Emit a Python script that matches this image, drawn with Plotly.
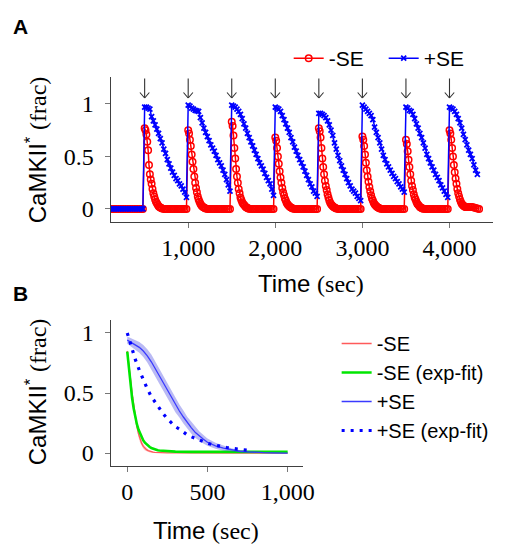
import plotly.graph_objects as go

# ---------------- Panel A data ----------------
stim_times = [500, 1000, 1500, 2000, 2500, 3000, 3500, 4000]

baseline_t = [100, 120, 140, 160, 180, 200, 220, 240, 260, 280, 300, 320, 340, 360, 380, 400, 420, 440, 460, 480]
baseline_minus = [0, 0, 0, 0, 0, 0, 0, 0, 0, 0, 0, 0, 0, 0, 0, 0, 0, 0, 0, 0]
baseline_plus = [0, 0, 0, 0, 0, 0, 0, 0, 0, 0, 0, 0, 0, 0, 0, 0, 0, 0, 0, 0]

# +SE samples, relative time after each stimulus (sec)
plus_rel_t = [0, 20, 40, 60, 80, 100, 120, 140, 160, 180, 200, 220, 240, 260, 280, 300, 320, 340, 360, 380, 400, 420, 440, 460, 480]
plus_p1 = [0.97, 0.97, 0.96, 0.95, 0.88, 0.84, 0.80, 0.76, 0.72, 0.67, 0.63, 0.57, 0.53, 0.47, 0.43, 0.39, 0.35, 0.32, 0.29, 0.27, 0.24, 0.22, 0.19, 0.16, 0.11]
plus_p2 = [0.99, 0.98, 0.96, 0.95, 0.94, 0.935, 0.93, 0.87, 0.82, 0.77, 0.73, 0.69, 0.65, 0.61, 0.58, 0.55, 0.51, 0.47, 0.44, 0.41, 0.37, 0.33, 0.28, 0.23, 0.17]
plus_p3 = [0.99, 0.98, 0.97, 0.95, 0.93, 0.90, 0.86, 0.81, 0.77, 0.72, 0.68, 0.64, 0.60, 0.56, 0.52, 0.48, 0.44, 0.41, 0.38, 0.34, 0.30, 0.27, 0.24, 0.19, 0.13]
plus_p4 = [0.97, 0.96, 0.95, 0.93, 0.89, 0.85, 0.81, 0.77, 0.73, 0.68, 0.64, 0.59, 0.55, 0.51, 0.47, 0.44, 0.40, 0.36, 0.32, 0.28, 0.24, 0.21, 0.17, 0.15, 0.12]
plus_p5 = [0.91, 0.91, 0.90, 0.89, 0.87, 0.84, 0.80, 0.75, 0.70, 0.63, 0.57, 0.51, 0.46, 0.41, 0.37, 0.33, 0.29, 0.25, 0.22, 0.19, 0.17, 0.15, 0.12, 0.10, 0.08]
plus_p6 = [0.99, 0.97, 0.95, 0.93, 0.91, 0.89, 0.85, 0.78, 0.73, 0.68, 0.63, 0.57, 0.51, 0.47, 0.43, 0.40, 0.37, 0.34, 0.31, 0.29, 0.26, 0.24, 0.21, 0.19, 0.16]
plus_p7 = [0.97, 0.96, 0.94, 0.93, 0.90, 0.86, 0.81, 0.77, 0.72, 0.68, 0.63, 0.58, 0.52, 0.48, 0.44, 0.40, 0.37, 0.33, 0.30, 0.27, 0.23, 0.20, 0.17, 0.14, 0.11]
plus_p8 = [0.97, 0.96, 0.95, 0.93, 0.90, 0.86, 0.82, 0.77, 0.71, 0.66, 0.61, 0.56, 0.52, 0.48, 0.42, 0.37, 0.33]

# -SE samples, relative time after each stimulus (sec)
minus_rel_t = [0, 10, 20, 30, 40, 50, 60, 70, 80, 90, 100, 110, 120, 130, 140, 150, 160, 170, 180, 190, 200,
               220, 240, 260, 280, 300, 320, 340, 360, 380, 400, 420, 440, 460, 480]
minus_p1 = [0.77, 0.75, 0.71, 0.64, 0.56, 0.42, 0.33, 0.28, 0.24, 0.19, 0.15, 0.12, 0.09, 0.07, 0.055, 0.04, 0.025, 0.02, 0.015, 0.01, 0.005,
            0, 0, 0, 0, 0, 0, 0, 0, 0, 0, 0, 0, 0, 0]
minus_p2 = [0.75, 0.72, 0.66, 0.60, 0.52, 0.45, 0.38, 0.31, 0.25, 0.20, 0.16, 0.12, 0.09, 0.07, 0.05, 0.035, 0.025, 0.02, 0.015, 0.01, 0.005,
            0, 0, 0, 0, 0, 0, 0, 0, 0, 0, 0, 0, 0, 0]
minus_p3 = [0.83, 0.79, 0.70, 0.58, 0.48, 0.38, 0.31, 0.25, 0.19, 0.15, 0.11, 0.085, 0.065, 0.05, 0.04, 0.03, 0.02, 0.015, 0.01, 0.005, 0.002,
            0, 0, 0, 0, 0, 0, 0, 0, 0, 0, 0, 0, 0, 0]
minus_p4 = [0.68, 0.65, 0.58, 0.50, 0.43, 0.36, 0.30, 0.25, 0.20, 0.16, 0.13, 0.10, 0.08, 0.06, 0.045, 0.035, 0.025, 0.02, 0.015, 0.01, 0.005,
            0, 0, 0, 0, 0, 0, 0, 0, 0, 0, 0, 0, 0, 0]
minus_p5 = [0.77, 0.74, 0.68, 0.58, 0.48, 0.40, 0.33, 0.27, 0.22, 0.18, 0.14, 0.11, 0.08, 0.06, 0.045, 0.035, 0.025, 0.02, 0.015, 0.01, 0.005,
            0, 0, 0, 0, 0, 0, 0, 0, 0, 0, 0, 0, 0, 0]
minus_p6 = [0.69, 0.66, 0.60, 0.52, 0.44, 0.37, 0.31, 0.26, 0.21, 0.17, 0.13, 0.10, 0.08, 0.06, 0.045, 0.035, 0.025, 0.02, 0.015, 0.01, 0.005,
            0, 0, 0, 0, 0, 0, 0, 0, 0, 0, 0, 0, 0, 0]
minus_p7 = [0.66, 0.62, 0.55, 0.47, 0.40, 0.33, 0.27, 0.22, 0.18, 0.14, 0.11, 0.09, 0.07, 0.05, 0.04, 0.03, 0.02, 0.015, 0.01, 0.005, 0.002,
            0, 0, 0, 0, 0, 0, 0, 0, 0, 0, 0, 0, 0, 0]
minus_p8 = [0.75, 0.72, 0.66, 0.58, 0.50, 0.42, 0.35, 0.29, 0.24, 0.19, 0.15, 0.12, 0.09, 0.07, 0.05, 0.04, 0.03, 0.025, 0.02, 0.02, 0.02,
            0.02, 0.02, 0.018, 0.015, 0.01, 0.005, 0.0]

plus_pulses = [plus_p1, plus_p2, plus_p3, plus_p4, plus_p5, plus_p6, plus_p7, plus_p8]
minus_pulses = [minus_p1, minus_p2, minus_p3, minus_p4, minus_p5, minus_p6, minus_p7, minus_p8]

xticks_a = [1000, 2000, 3000, 4000]
xticklabels_a = ["1,000", "2,000", "3,000", "4,000"]
yticks = [0, 0.5, 1]
yticklabels = ["0", "0.5", "1"]
arrow_tip = 1.057  # value where the stimulus arrows end

# ---------------- Panel B data ----------------
b_minus_t = [0, 10, 20, 30, 40, 50, 60, 70, 80, 90, 100, 110, 120, 130, 140, 150, 160, 170, 180, 190, 200,
             250, 300, 400, 500, 600, 700, 800, 900, 1000]
b_minus_mean = [0.85, 0.75, 0.62, 0.50, 0.39, 0.30, 0.22, 0.16, 0.115, 0.08, 0.055, 0.04, 0.028, 0.02, 0.014, 0.01, 0.007, 0.005, 0.004, 0.003, 0.002,
                0.001, 0.001, 0, 0, 0, 0, 0, 0, 0]
b_minus_sd = [0.02, 0.03, 0.035, 0.035, 0.035, 0.035, 0.035, 0.03, 0.03, 0.025, 0.02, 0.018, 0.015, 0.012, 0.01, 0.008, 0.007, 0.006, 0.005, 0.005, 0.005,
              0.004, 0.004, 0.003, 0.003, 0.003, 0.003, 0.003, 0.003, 0.003]

b_minus_fit_t = [0, 10, 20, 30, 40, 50, 60, 70, 80, 90, 100, 110, 120, 130, 140, 150, 160, 170, 180, 190, 200,
                 250, 300, 400, 500, 600, 700, 800, 900, 1000]
b_minus_fit = [0.845, 0.70, 0.57, 0.46, 0.37, 0.30, 0.24, 0.195, 0.16, 0.13, 0.105, 0.087, 0.072, 0.06, 0.05, 0.042, 0.036, 0.031, 0.027, 0.024, 0.021,
               0.015, 0.012, 0.01, 0.01, 0.01, 0.01, 0.01, 0.01, 0.01]

b_plus_t = [0, 25, 50, 75, 100, 125, 150, 175, 200, 225, 250, 275, 300, 325, 350, 375, 400, 425, 450, 475, 500,
            550, 600, 650, 700, 750, 800, 850, 900, 950, 1000]
b_plus_mean = [0.94, 0.92, 0.90, 0.88, 0.85, 0.81, 0.76, 0.70, 0.64, 0.58, 0.52, 0.46, 0.40, 0.35, 0.30, 0.25, 0.21, 0.17, 0.14, 0.115, 0.09,
               0.06, 0.04, 0.025, 0.015, 0.01, 0.005, 0.003, 0.002, 0.001, 0]
b_plus_sd = [0.03, 0.035, 0.04, 0.045, 0.05, 0.055, 0.06, 0.06, 0.06, 0.06, 0.06, 0.06, 0.06, 0.055, 0.055, 0.05, 0.05, 0.045, 0.04, 0.035, 0.03,
             0.025, 0.02, 0.015, 0.01, 0.008, 0.006, 0.005, 0.004, 0.003, 0.003]

b_plus_fit_t = [0, 25, 50, 75, 100, 125, 150, 175, 200, 225, 250, 275, 300, 325, 350, 375, 400, 425, 450, 475, 500,
                525, 550, 575, 600, 625, 650, 675, 700, 725, 750, 775]
b_plus_fit = [1.0, 0.88, 0.78, 0.69, 0.61, 0.535, 0.47, 0.42, 0.37, 0.325, 0.285, 0.25, 0.22, 0.20, 0.175, 0.15, 0.135, 0.12, 0.105, 0.093, 0.082,
              0.072, 0.064, 0.056, 0.05, 0.044, 0.039, 0.034, 0.03, 0.027, 0.024, 0.021]

xticks_b = [0, 500, 1000]
xticklabels_b = ["0", "500", "1,000"]

# ---------------- build series ----------------
minus_x, minus_y = list(baseline_t), list(baseline_minus)
plus_x, plus_y = list(baseline_t), list(baseline_plus)
for t0, vals in zip(stim_times, minus_pulses):
    minus_x += [t0 + r for r in minus_rel_t[:len(vals)]]
    minus_y += vals
for t0, vals in zip(stim_times, plus_pulses):
    plus_x += [t0 + r for r in plus_rel_t[:len(vals)]]
    plus_y += vals

W, H = 514, 544
def px(x): return x / W
def py(y): return 1 - y / H

SERIF = "Liberation Serif"
SANS = "Liberation Sans"
AXC = "#404040"

fig = go.Figure()

fig.add_trace(go.Scatter(
    x=minus_x, y=minus_y, mode="lines+markers", name="-SE",
    line=dict(color="red", width=1.5),
    marker=dict(symbol="circle-open", size=6.5, color="red", line=dict(width=1.5, color="red")),
    xaxis="x", yaxis="y", legend="legend"))
fig.add_trace(go.Scatter(
    x=plus_x, y=plus_y, mode="lines+markers", name="+SE",
    line=dict(color="blue", width=1.5),
    marker=dict(symbol="x-thin-open", size=5, color="blue", line=dict(width=1.8, color="blue")),
    xaxis="x", yaxis="y", legend="legend"))

# Panel B
def band(t, m, s):
    up = [a + b for a, b in zip(m, s)]
    lo = [a - b for a, b in zip(m, s)]
    return t + t[::-1], up + lo[::-1]

bx, by = band(b_minus_t, b_minus_mean, b_minus_sd)
fig.add_trace(go.Scatter(x=bx, y=by, fill="toself", fillcolor="rgba(255,0,0,0.22)",
                         line=dict(width=0), hoverinfo="skip", showlegend=False,
                         xaxis="x2", yaxis="y2"))
fig.add_trace(go.Scatter(x=b_minus_t, y=b_minus_mean, mode="lines", name="-SE",
                         line=dict(color="#ff5a5a", width=1.3),
                         xaxis="x2", yaxis="y2", legend="legend2"))
fig.add_trace(go.Scatter(x=b_minus_fit_t, y=b_minus_fit, mode="lines", name="-SE (exp-fit)",
                         line=dict(color="#00e600", width=2.6),
                         xaxis="x2", yaxis="y2", legend="legend2"))
bx, by = band(b_plus_t, b_plus_mean, b_plus_sd)
fig.add_trace(go.Scatter(x=bx, y=by, fill="toself", fillcolor="rgba(40,40,220,0.32)",
                         line=dict(width=0), hoverinfo="skip", showlegend=False,
                         xaxis="x2", yaxis="y2"))
fig.add_trace(go.Scatter(x=b_plus_t, y=b_plus_mean, mode="lines", name="+SE",
                         line=dict(color="#3a3aff", width=1.3),
                         xaxis="x2", yaxis="y2", legend="legend2"))
fig.add_trace(go.Scatter(x=b_plus_fit_t, y=b_plus_fit, mode="lines", name="+SE (exp-fit)",
                         line=dict(color="blue", width=3.2, dash="3px,6px"),
                         xaxis="x2", yaxis="y2", legend="legend2"))

tickfont = dict(family=SERIF, size=24, color="black")

def xax(domain, rng, tv, tt, anchor):
    return dict(domain=domain, range=rng, anchor=anchor, tickvals=tv, ticktext=tt,
                showline=True, linecolor=AXC, linewidth=1, mirror=False,
                ticks="outside", ticklen=5, tickcolor="#777", tickwidth=1,
                showgrid=False, zeroline=False, tickfont=tickfont, ticklabelstandoff=-1)

def yax(domain, rng, anchor):
    return dict(domain=domain, range=rng, anchor=anchor, tickvals=yticks, ticktext=yticklabels,
                showline=True, linecolor=AXC, linewidth=1, mirror=False,
                ticks="outside", ticklen=5, tickcolor="#777", tickwidth=1,
                showgrid=False, zeroline=False, tickfont=tickfont, ticklabelstandoff=6)

def inner(over, anchor, rng, tv):
    return dict(overlaying=over, anchor=anchor, range=rng, tickvals=tv, showticklabels=False,
                ticks="inside", ticklen=5, tickcolor="#777", tickwidth=1,
                showline=False, showgrid=False, zeroline=False)

xa_rng = [109, 4502]
ya_rng = [-0.124, 1.257]
xb_rng = [-104, 1098]
yb_rng = [-0.108, 1.108]

fig.update_layout(
    width=W, height=H,
    margin=dict(l=0, r=0, t=0, b=0),
    paper_bgcolor="white", plot_bgcolor="rgba(0,0,0,0)",
    xaxis=xax([px(113), px(504)], xa_rng, xticks_a, xticklabels_a, "y"),
    yaxis=yax([py(222), py(77)], ya_rng, "x"),
    xaxis2=xax([px(113), px(310)], xb_rng, xticks_b, xticklabels_b, "y2"),
    yaxis2=yax([py(466), py(320)], yb_rng, "x2"),
    xaxis3=inner("x", "y", xa_rng, xticks_a),
    yaxis3=inner("y", "x", ya_rng, yticks),
    xaxis4=inner("x2", "y2", xb_rng, xticks_b),
    yaxis4=inner("y2", "x2", yb_rng, yticks),
    showlegend=True,
    legend=dict(orientation="h", x=px(295), y=py(38), xanchor="left", yanchor="top",
                font=dict(family=SANS, size=21, color="black"), bgcolor="rgba(0,0,0,0)",
                entrywidth=50, entrywidthmode="pixels"),
    legend2=dict(x=px(344), y=py(324), xanchor="left", yanchor="top",
                 font=dict(family=SANS, size=20, color="black"), bgcolor="rgba(0,0,0,0)",
                 tracegroupgap=0),
)

ann = []
# stimulus arrows: stem + two wings ending at the tip
for t in stim_times:
    for dx, dy in [(0, -21), (-6, -7), (6, -7)]:
        ann.append(dict(x=t, y=arrow_tip, xref="x", yref="y", text="", showarrow=True,
                        arrowhead=0, arrowwidth=1.1, arrowcolor="#333", ax=dx, ay=dy,
                        standoff=0, startstandoff=0))

ytitle = ("CaMKII<sup>*</sup> <span style=\"font-family:'Liberation Serif'\">(frac)</span>")
xtitle = ("Time <span style=\"font-family:'Liberation Serif'\">(sec)</span>")
tfont = dict(family=SANS, size=24, color="black")
ann += [
    dict(x=px(11), y=py(26), xref="paper", yref="paper", text="<b>A</b>", showarrow=False,
         font=dict(family=SANS, size=21, color="black"), xanchor="left", yanchor="middle"),
    dict(x=px(11), y=py(293), xref="paper", yref="paper", text="<b>B</b>", showarrow=False,
         font=dict(family=SANS, size=21, color="black"), xanchor="left", yanchor="middle"),
    dict(x=px(37), y=py(150), xref="paper", yref="paper", text=ytitle, showarrow=False,
         textangle=-90, font=tfont, xanchor="center", yanchor="middle"),
    dict(x=px(318), y=py(283), xref="paper", yref="paper", text=xtitle, showarrow=False,
         font=tfont, xanchor="center", yanchor="middle"),
    dict(x=px(37), y=py(392), xref="paper", yref="paper", text=ytitle, showarrow=False,
         textangle=-90, font=tfont, xanchor="center", yanchor="middle"),
    dict(x=px(211), y=py(530), xref="paper", yref="paper", text=xtitle, showarrow=False,
         font=tfont, xanchor="center", yanchor="middle"),
]
fig.update_layout(annotations=ann)

fig.write_html("out.html", config={"displayModeBar": False},
               post_script="document.body.style.margin='0px';document.body.style.overflow='hidden';")
